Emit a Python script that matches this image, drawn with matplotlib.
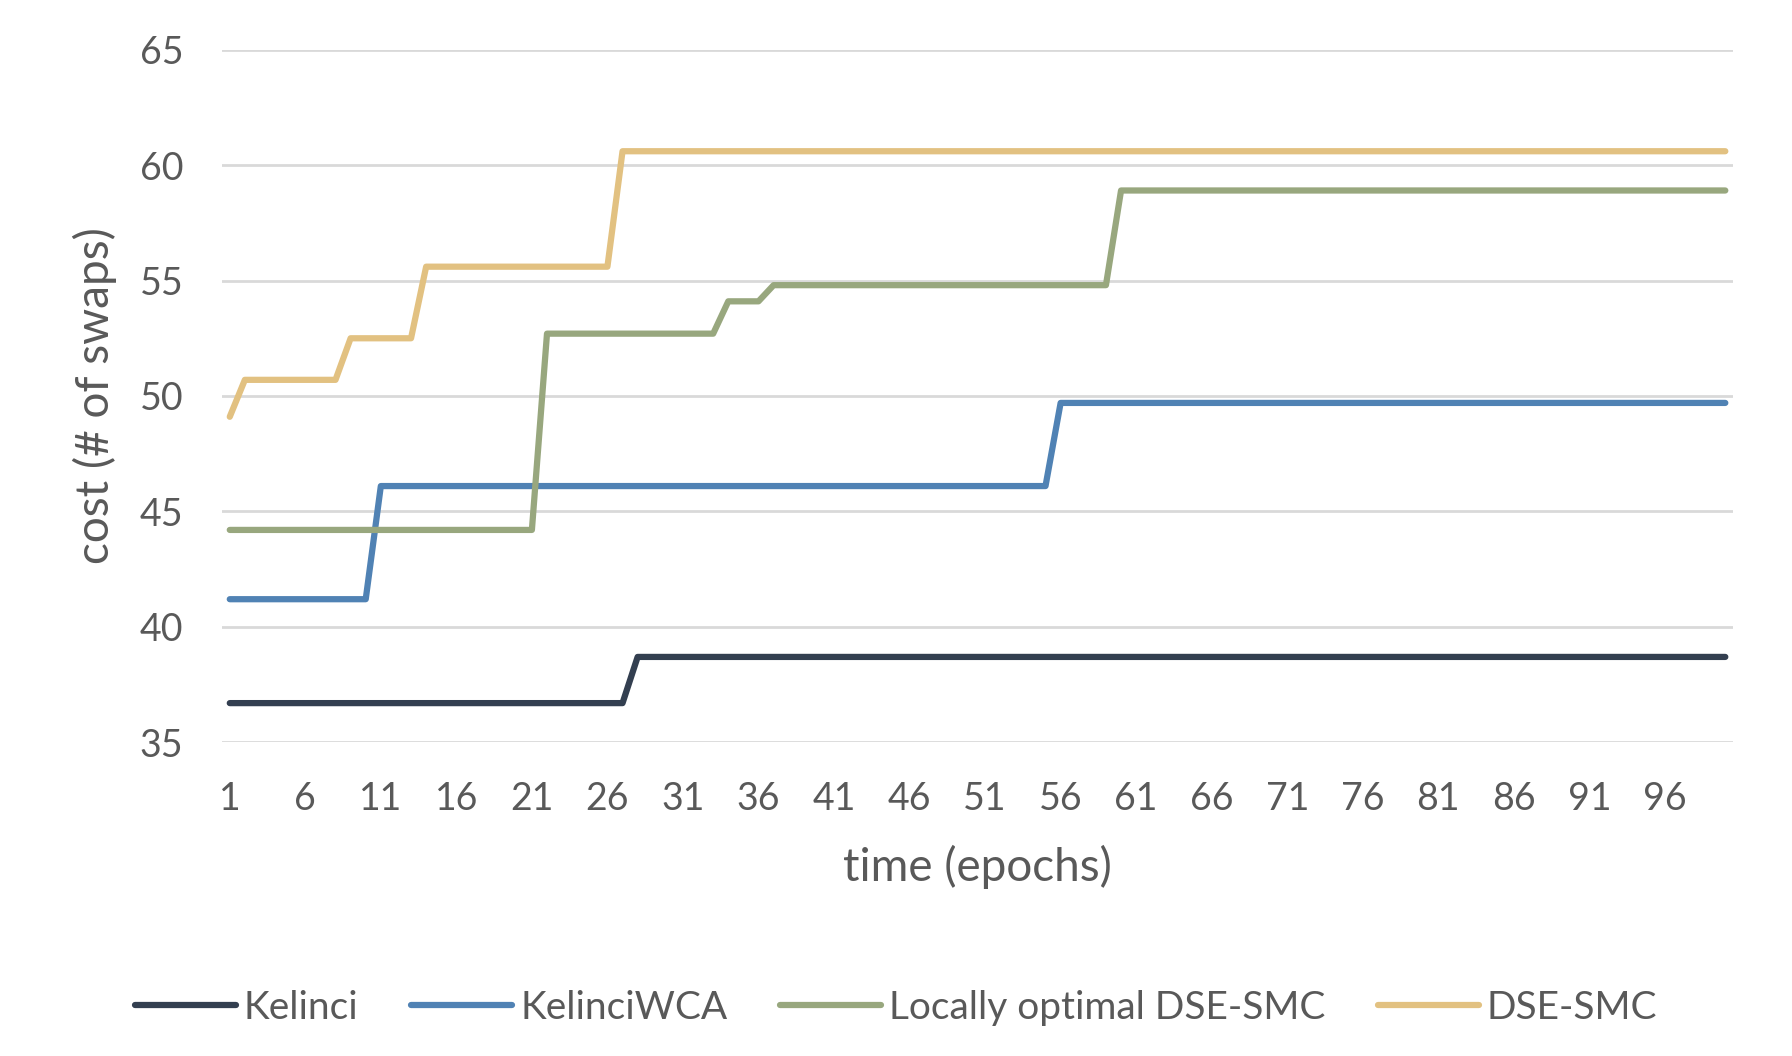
import numpy as np
import matplotlib
matplotlib.use("Agg")
import matplotlib.pyplot as plt

# epochs 1..100, each series given as (value, number of epochs it holds)
epochs = np.arange(1, 101)

kelinci_vals = [36.7, 38.7]
kelinci_runs = [27, 73]

wca_vals = [41.2, 46.1, 49.7]
wca_runs = [10, 45, 45]

local_vals = [44.2, 52.7, 54.1, 54.8, 58.9]
local_runs = [21, 12, 3, 23, 41]

dse_vals = [49.1, 50.7, 52.5, 55.6, 60.6]
dse_runs = [1, 7, 5, 13, 74]

names = ["Kelinci", "KelinciWCA", "Locally optimal DSE-SMC", "DSE-SMC"]
colors = ["#333F50", "#5082B4", "#98A77E", "#E2C181"]

series = [np.repeat(kelinci_vals, kelinci_runs),
          np.repeat(wca_vals, wca_runs),
          np.repeat(local_vals, local_runs),
          np.repeat(dse_vals, dse_runs)]

plt.rcParams['font.family'] = ['Lato', 'DejaVu Sans']
txt = "#595959"

fig = plt.figure(figsize=(17.92, 10.56), dpi=100)
ax = fig.add_axes([0.124, 0.297, 0.843, 0.656])

for y, name, c in zip(series, names, colors):
    ax.plot(epochs, y, color=c, lw=4.5, label=name, solid_capstyle='round', solid_joinstyle='round')

ax.set_xlim(0.5, 100.5)
ax.set_ylim(35, 65)
ax.set_yticks(np.arange(35, 66, 5))
ax.set_xticks(np.arange(1, 100, 5))
ax.grid(axis='y', color="#D9D9D9", lw=2)
ax.set_axisbelow(True)
for s in ax.spines.values():
    s.set_visible(False)
ax.tick_params(length=0, labelsize=27, labelcolor=txt)
ax.tick_params(axis='y', pad=28)
ax.tick_params(axis='x', pad=28)

ax.set_xlabel("time (epochs)", fontsize=33, color=txt, labelpad=20)
ax.set_ylabel("cost (# of swaps)", fontsize=33, color=txt, labelpad=16)

ax.legend(loc='center', bbox_to_anchor=(0.5, 1 - 1008 / 1056), bbox_transform=fig.transFigure,
          ncol=4, frameon=False, fontsize=28, labelcolor=txt,
          handlelength=2.6, handletextpad=0.2, columnspacing=1.35)

fig.savefig("out.png", dpi=100)
